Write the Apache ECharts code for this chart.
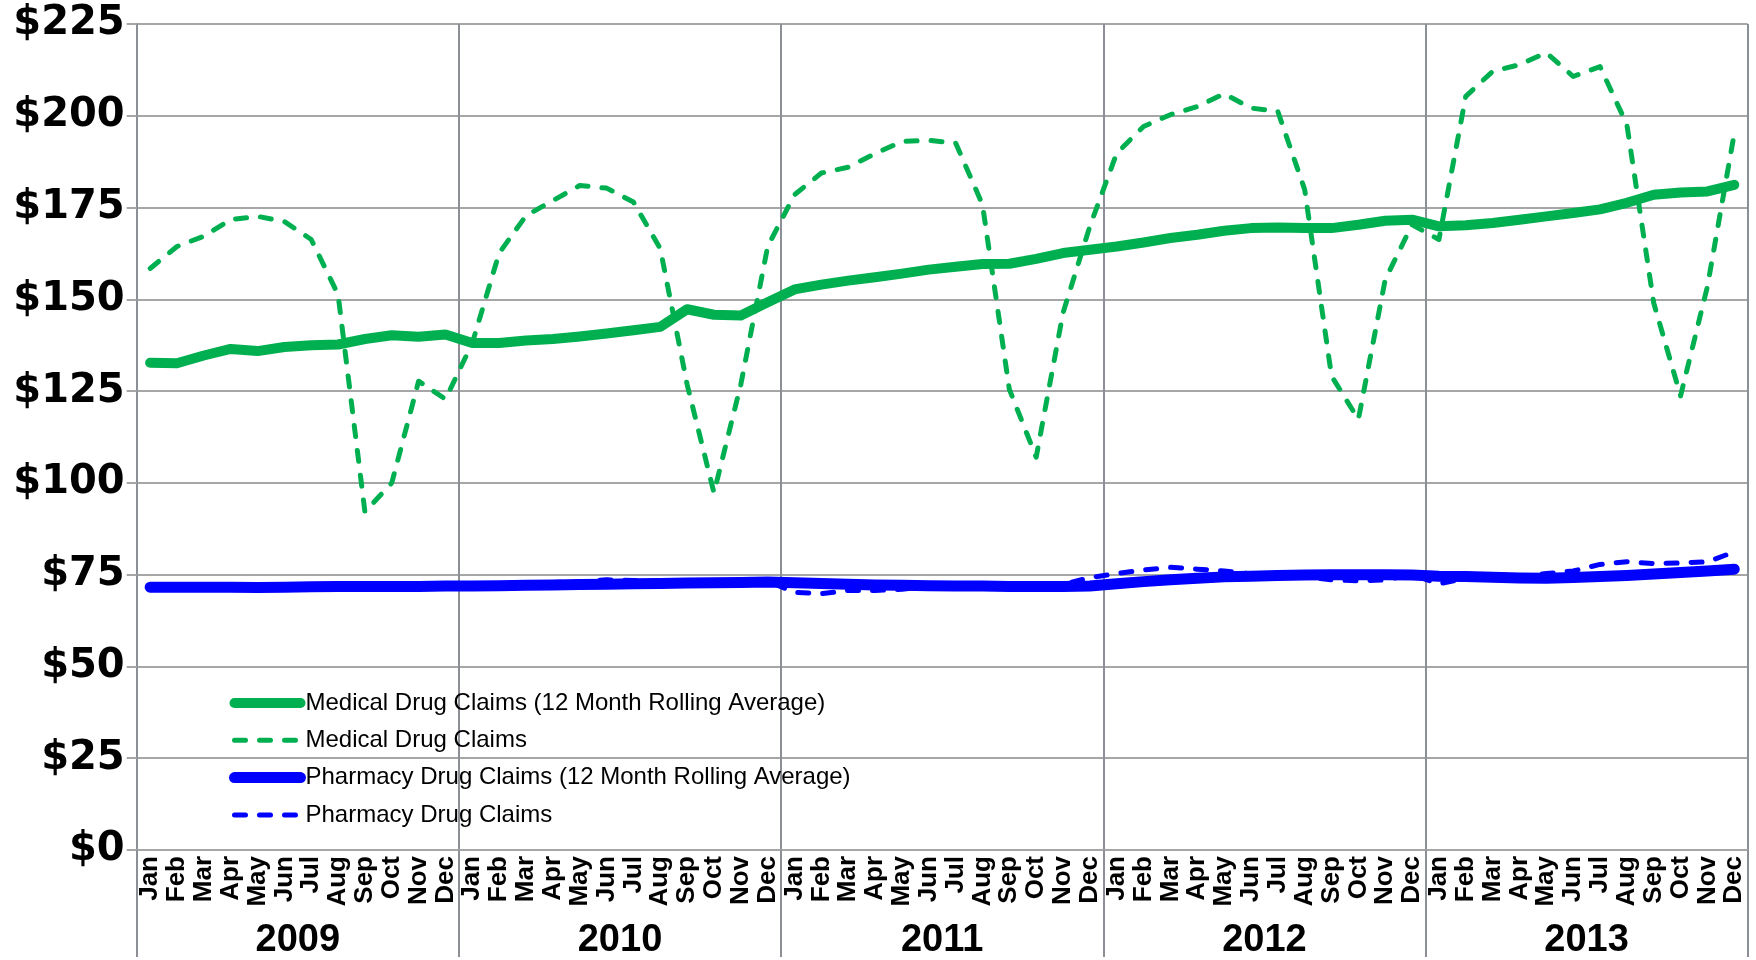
<!DOCTYPE html>
<html>
<head>
<meta charset="utf-8">
<script src="https://cdn.jsdelivr.net/npm/echarts@6/dist/echarts.min.js"></script>
<style>
html,body{margin:0;padding:0;background:#fff;}
#chart{width:1756px;height:960px;}
</style>
</head>
<body>
<div id="chart"></div>
<script>
const months = ['Jan','Feb','Mar','Apr','May','Jun','Jul','Aug','Sep','Oct','Nov','Dec'];
const years = ['2009','2010','2011','2012','2013'];
const categories = [];
years.forEach(y => months.forEach(m => categories.push(m + ' ' + y)));

const medicalRolling = [
  132.7,132.6,134.7,136.5,135.9,137.0,137.5,137.7,139.2,140.2,139.8,140.4,
  138.1,138.1,138.8,139.2,139.9,140.7,141.6,142.5,147.3,145.8,145.6,149.2,
  152.7,154.0,155.1,156.0,157.0,158.1,158.9,159.6,159.7,161.0,162.6,163.5,
  164.4,165.5,166.7,167.6,168.7,169.4,169.6,169.4,169.4,170.3,171.4,171.7,
  169.9,170.2,170.8,171.7,172.6,173.5,174.5,176.3,178.5,179.1,179.4,181.2
];
const medical = [
  158.4,164.4,167.2,171.7,172.6,171.2,166.3,151.3,92.1,100.0,127.7,122.8,
  138.1,162.6,172.8,176.9,181.0,180.3,176.5,163.8,126.8,97.3,126.8,164.4,
  178.5,184.4,186.0,189.7,193.0,193.3,192.6,175.8,125.5,107.0,146.3,169.9,
  189.8,197.1,200.3,202.5,206.0,202.1,201.2,179.9,129.1,117.3,155.4,170.3,
  166.3,205.3,212.1,213.9,217.2,210.7,213.4,197.6,149.0,123.7,153.5,195.2
];
const pharmacyRolling = [
  71.6,71.6,71.6,71.6,71.5,71.6,71.7,71.8,71.8,71.8,71.8,71.9,
  71.9,72.0,72.1,72.2,72.3,72.4,72.5,72.6,72.7,72.8,72.9,73.0,
  72.8,72.6,72.4,72.2,72.1,72.0,71.9,71.9,71.8,71.8,71.8,71.9,
  72.5,73.1,73.6,74.0,74.4,74.6,74.8,74.9,75.0,75.0,75.0,74.9,
  74.6,74.5,74.3,74.1,74.0,74.2,74.5,74.8,75.2,75.6,76.0,76.5
];
const pharmacy = [
  71.6,71.6,71.7,71.6,71.6,71.8,71.9,72.0,72.0,71.9,72.0,72.2,
  72.2,72.4,72.8,72.9,73.0,73.6,73.4,73.2,73.3,73.4,73.3,73.2,
  70.2,69.8,70.7,70.7,71.0,72.0,72.2,72.0,72.3,72.0,72.3,74.2,
  75.3,76.3,77.0,76.5,76.0,75.2,74.8,74.5,73.6,73.3,73.6,75.0,
  72.5,74.0,74.3,74.5,75.3,76.0,77.8,78.5,78.0,78.2,78.5,81.2
];
const seriesNames = [
  'Medical Drug Claims (12 Month Rolling Average)',
  'Medical Drug Claims',
  'Pharmacy Drug Claims (12 Month Rolling Average)',
  'Pharmacy Drug Claims'
];

const GREEN = '#00B050', BLUE = '#0000FF', GRID = '#a6a6a6', SEP = '#8c9096';
const FONT = 'Liberation Sans';
const DASH = [11, 14];

const chart = echarts.init(document.getElementById('chart'), null, {renderer:'canvas'});
chart.setOption({
  animation: false,
  backgroundColor: '#ffffff',
  textStyle: {fontFamily: FONT},
  grid: {left: 136.7, right: 8.3, top: 24, bottom: 109, containLabel: false},
  legend: {
    orient: 'vertical', left: 224, top: 686,
    itemWidth: 66, itemHeight: 14, itemGap: 13.3,
    itemStyle: {opacity: 0},
    lineStyle: {width: 'inherit', type: 'inherit', cap: 'round'},
    textStyle: {fontFamily: FONT, fontSize: 24, color: '#000'},
    data: seriesNames
  },
  xAxis: [
    {
      type: 'category', data: categories, boundaryGap: true, position: 'bottom',
      axisLine: {show: true, lineStyle: {color: GRID, width: 2}},
      axisTick: {show: false},
      splitLine: {show: false},
      axisLabel: {
        interval: 0, rotate: 90, margin: 6,
        formatter: v => v.split(' ')[0],
        fontFamily: FONT, fontWeight: 'bold', fontSize: 26, color: '#000'
      }
    },
    {
      type: 'category', data: years, boundaryGap: true, position: 'bottom',
      axisLine: {show: false},
      axisTick: {show: true, interval: 0, length: 107, lineStyle: {color: SEP, width: 2}},
      splitLine: {show: true, interval: 0, lineStyle: {color: SEP, width: 2}},
      axisLabel: {
        interval: 0, margin: 72,
        fontFamily: FONT, fontWeight: 'bold', fontSize: 38, color: '#000'
      }
    }
  ],
  yAxis: {
    type: 'value', min: 0, max: 225, interval: 25,
    axisLine: {show: true, lineStyle: {color: SEP, width: 2}},
    axisTick: {show: true, length: 10, lineStyle: {color: GRID, width: 2}},
    splitLine: {show: true, lineStyle: {color: GRID, width: 2}},
    axisLabel: {
      margin: 12, formatter: v => '$' + v,
      fontFamily: 'DejaVu Sans', fontWeight: 'bold', fontSize: 40, color: '#000'
    }
  },
  series: [
    {
      name: seriesNames[0], type: 'line', data: medicalRolling, xAxisIndex: 0,
      symbol: 'none', color: GREEN,
      lineStyle: {color: GREEN, width: 10, cap: 'round', join: 'round'}
    },
    {
      name: seriesNames[1], type: 'line', data: medical, xAxisIndex: 0,
      symbol: 'none', color: GREEN,
      lineStyle: {color: GREEN, width: 5, type: DASH, cap: 'round', join: 'round'}
    },
    {
      name: seriesNames[2], type: 'line', data: pharmacyRolling, xAxisIndex: 0,
      symbol: 'none', color: BLUE,
      lineStyle: {color: BLUE, width: 11, cap: 'round', join: 'round'}
    },
    {
      name: seriesNames[3], type: 'line', data: pharmacy, xAxisIndex: 0,
      symbol: 'none', color: BLUE,
      lineStyle: {color: BLUE, width: 5, type: DASH, cap: 'round', join: 'round'}
    }
  ]
});
</script>
</body>
</html>
